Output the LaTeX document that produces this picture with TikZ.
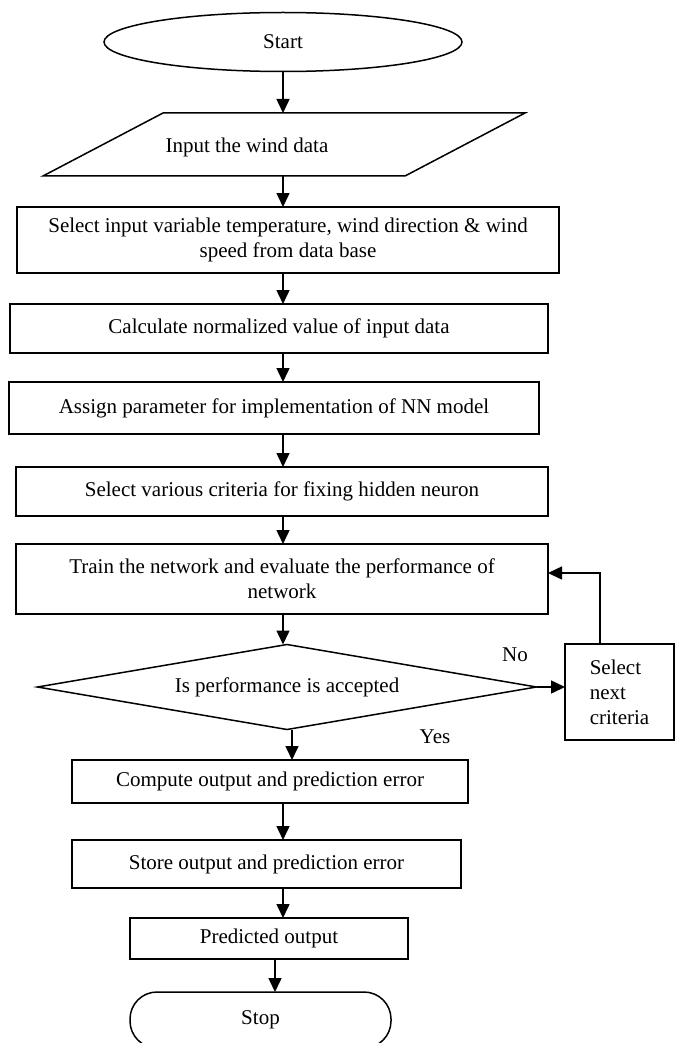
\documentclass[tikz,border=0pt]{standalone}
\usepackage{fontspec}
\setmainfont{Liberation Serif}
\usetikzlibrary{positioning,shapes.geometric,arrows.meta}

\begin{document}
\begin{tikzpicture}[
  x=1pt, y=-1pt,
  font=\fontsize{21}{25}\selectfont,
  box/.style={draw, line width=1.5pt, inner sep=0pt, outer sep=0pt, align=center},
  term/.style={box, ellipse},
  decision/.style={box, diamond, aspect=5.87},
  arr/.style={-{Triangle[length=14pt,width=13pt]}, line width=1.5pt}
]
  \useasboundingbox (0,0) rectangle (678,1043);

  \node[term, minimum width=358pt, minimum height=59pt] (start) at (283,42) {Start};
  % input parallelogram
  \draw[line width=1.5pt] (163,113) coordinate (inTL) -- (525,113) coordinate (inTR)
    -- (405,176) coordinate (inBR) -- (43,176) coordinate (inBL) -- cycle;
  \node (input) at (247,147) {Input the wind data};
  \node[box, minimum width=542pt, minimum height=66pt] (sel) at (288,240) {Select input variable temperature, wind direction \& wind\\speed from data base};
  \node[box, minimum width=538pt, minimum height=49pt, below=31pt of sel, xshift=-9pt] (norm) {Calculate normalized value of input data};
  \node[box, minimum width=530pt, minimum height=52pt, below=29pt of norm, xshift=-5pt] (param) {Assign parameter for implementation of NN model};
  \node[box, minimum width=532pt, minimum height=49pt, below=33pt of param, xshift=8pt] (crit) {Select various criteria for fixing hidden neuron};
  \node[box, minimum width=532pt, minimum height=70pt, below=28pt of crit] (train) {Train the network and evaluate the performance of\\network};
  \node[decision, minimum width=499pt, minimum height=85pt, below=30.5pt of train, xshift=5pt] (dec) {Is performance is accepted};
  \node[box, minimum width=109pt, minimum height=96pt, align=left] (next) at (619.5,692) {Select\\next\\criteria};
  \node[box, minimum width=396pt, minimum height=43pt, below=30.5pt of dec, xshift=-17pt] (comp) {Compute output and prediction error};
  \node[box, minimum width=389pt, minimum height=48pt, below=37pt of comp, xshift=-3.5pt] (store) {Store output and prediction error};
  \node[box, minimum width=278pt, minimum height=41pt, below=30pt of store, xshift=2.5pt] (pred) {Predicted output};
  \node[box, rounded corners=27pt, minimum width=261pt, minimum height=56pt, below=33pt of pred, xshift=-8.5pt] (stop) {Stop};

  \node (no) at (515,655) {No};
  \node (yes) at (435,737) {Yes};

  \draw[arr] (start.south) -- (start |- inTL);
  \draw[arr] (start |- inBL) -- (start |- sel.north);
  \draw[arr] (start |- sel.south) -- (start |- norm.north);
  \draw[arr] (start |- norm.south) -- (start |- param.north);
  \draw[arr] (start |- param.south) -- (start |- crit.north);
  \draw[arr] (start |- crit.south) -- (start |- train.north);
  \draw[arr] (start |- train.south) -- (start |- dec.north);
  \draw[arr] ([xshift=5pt]dec.south) -- ([xshift=5pt]dec.south |- comp.north);
  \draw[arr] (start |- comp.south) -- (start |- store.north);
  \draw[arr] (start |- store.south) -- (start |- pred.north);
  \draw[arr] ([xshift=6pt]pred.south) -- ([xshift=6pt]pred.south |- stop.north);
  \draw[arr] (dec.east) -- (dec.east -| next.west);
  \draw[arr] ([xshift=-19.5pt]next.north) |- ([yshift=6pt]train.east);
\end{tikzpicture}
\end{document}
